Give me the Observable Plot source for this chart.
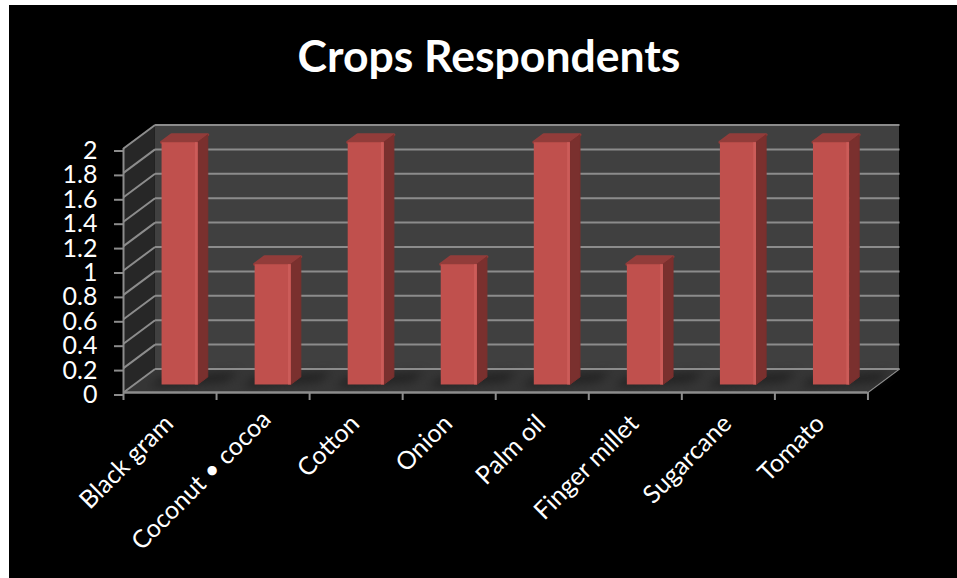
<!DOCTYPE html>
<html>
<head>
<meta charset="utf-8">
<script src="https://cdn.jsdelivr.net/npm/d3@7"></script>
<script src="https://cdn.jsdelivr.net/npm/@observablehq/plot@0.6"></script>
<style>
  html, body { margin: 0; background: #fff; }
  #panel { position: absolute; left: 9px; top: 5px; width: 948px; height: 573px; background: #000; overflow: hidden; }
  #title { height: 90px; box-sizing: border-box; padding-top: 25px; text-align: center; color: #fff;
           font: 700 44.5px/50px Lato, sans-serif; white-space: nowrap; }
  #title span { position: relative; left: 6px; }
  svg { display: block; }
</style>
</head>
<body>
<div id="panel">
  <div id="title"><span>Crops Respondents</span></div>
  <div id="chart"></div>
</div>
<script>
const crops = ["Black gram", "Coconut • cocoa", "Cotton", "Onion", "Palm oil", "Finger millet", "Sugarcane", "Tomato"];
const respondents = [2, 1, 2, 1, 2, 1, 2, 2];
const valueTicks = [0, 0.2, 0.4, 0.6, 0.8, 1, 1.2, 1.4, 1.6, 1.8, 2];

// Oblique projection: a depth of 1 shifts a point right and up in data units.
const shiftX = 0.339, shiftY = 0.1926;
const px = (x, z) => x + z * shiftX;
const py = (y, z) => y + z * shiftY;

const yMax = 2, xMax = crops.length;
const barHalf = 0.194, barNear = 0.32, barFar = 0.64;
// Column tops are softly bevelled, so their visible edges sit just under the full height.
const bevel = 0.014;

// A flat face is a two-row area: each row joins one edge point to its opposite.
const edge = (id, a, b) => ({id, x1: px(a[0], a[2]), y1: py(a[1], a[2]), x2: px(b[0], b[2]), y2: py(b[1], b[2])});
const face = (id, a, b, c, d) => [edge(id, a, b), edge(id, d, c)];
const areaOf = (rows, options) => Plot.area(rows, {x1: "x1", y1: "y1", x2: "x2", y2: "y2", z: "id", curve: "linear", ...options});

const backWall = face("back", [0, 0, 1], [0, yMax, 1], [xMax, yMax, 1], [xMax, 0, 1]);
const sideWall = face("side", [0, 0, 0], [0, yMax, 0], [0, yMax, 1], [0, 0, 1]);
const floor = face("floor", [0, 0, 0], [0, 0, 1], [xMax, 0, 1], [xMax, 0, 0]);

const bars = respondents.map((v, i) => ({v: v - bevel, l: i + 0.5 - barHalf, r: i + 0.5 + barHalf, id: crops[i]}));
const fronts = bars.flatMap(b => face(b.id, [b.l, 0, barNear], [b.l, b.v, barNear], [b.r, b.v, barNear], [b.r, 0, barNear]));
const sides = bars.flatMap(b => face(b.id, [b.r, 0, barNear], [b.r, b.v, barNear], [b.r, b.v, barFar], [b.r, 0, barFar]));
const tops = bars.flatMap(b => face(b.id, [b.l, b.v, barNear], [b.l, b.v, barFar], [b.r, b.v, barFar], [b.r, b.v, barNear]));
// Floor shadows fall behind and to the right of each column.
const shadows = bars.flatMap(b => face(b.id, [b.l - 0.1, 0, 0.2], [b.l - 0.1, 0, 0.6], [b.r + 0.26, 0, 0.85], [b.r + 0.26, 0, 0.45]));
// Lit strip down the right edge of each front face.
const glints = bars.flatMap(b => face(b.id, [b.r - 0.03, 0, barNear], [b.r - 0.03, b.v, barNear], [b.r, b.v, barNear], [b.r, 0, barNear]));

// The longest label slides a little along its own slant to stay clear of its neighbours.
const slide = d => (d.length > 14 ? 0.05 : 0);

const gridColor = "#8c8c8c";
const chart = Plot.plot({
  width: 948,
  height: 483,
  marginLeft: 114,
  marginRight: 58,
  marginTop: 29.5,
  marginBottom: 186,
  style: {background: "transparent", color: "#fff"},
  x: {domain: [0, xMax + shiftX]},
  y: {domain: [0, yMax + shiftY]},
  marks: [
    areaOf(backWall, {fill: "#404040"}),
    areaOf(sideWall, {fill: "#272727"}),
    areaOf(floor, {fill: "#363636"}),
    areaOf(shadows, {fill: "#202020", imageFilter: "blur(5px)"}),

    // Gridlines run along the back wall and fold forward across the side wall.
    Plot.link(valueTicks, {x1: px(0, 1), x2: px(xMax, 1), y1: d => py(d, 1), y2: d => py(d, 1), stroke: gridColor, strokeWidth: 2}),
    Plot.link(valueTicks, {x1: px(0, 0), x2: px(0, 1), y1: d => py(d, 0), y2: d => py(d, 1), stroke: gridColor, strokeWidth: 2}),
    Plot.link([0], {x1: px(xMax, 0), x2: px(xMax, 1), y1: py(0, 0), y2: py(0, 1), stroke: gridColor, strokeWidth: 1.2}),

    // Columns
    areaOf(tops, {fill: "#923c3a", stroke: "#923c3a", strokeWidth: 3, strokeLinejoin: "round", imageFilter: "blur(0.7px)"}),
    areaOf(sides, {fill: "#7a302e", stroke: "#7a302e", strokeWidth: 1, strokeLinejoin: "round", imageFilter: "blur(0.5px)"}),
    areaOf(fronts, {fill: "#c0504d", imageFilter: "blur(0.6px)"}),
    areaOf(glints, {fill: "#cc5c59", imageFilter: "blur(0.5px)"}),

    // Front edges of the chart box
    Plot.ruleX([0], {y1: 0, y2: yMax, stroke: gridColor, strokeWidth: 2}),
    Plot.ruleY([0], {x1: 0, x2: xMax, stroke: gridColor, strokeWidth: 2.4}),

    Plot.axisY({
      ticks: valueTicks,
      tickSize: 9,
      tickPadding: 17,
      stroke: gridColor,
      strokeWidth: 2,
      label: null,
      tickFormat: d => String(d),
      fontSize: 25,
      fontFamily: "Lato, sans-serif",
      fill: "#fff",
      textStroke: "none",
      dy: 2.5
    }),
    Plot.axisX({
      ticks: d3.range(0, xMax + 1),
      tickSize: 8,
      stroke: gridColor,
      strokeWidth: 2,
      label: null,
      tickFormat: () => ""
    }),
    Plot.text(crops, {
      x: (d, i) => i + 0.5 + slide(d),
      y: d => 0.7 * slide(d),
      text: d => d,
      rotate: -45,
      textAnchor: "end",
      lineAnchor: "middle",
      dx: -1,
      dy: 27,
      fontSize: 25,
      fontFamily: "Lato, sans-serif",
      fill: "#fff"
    })
  ]
});
document.getElementById("chart").append(chart);
</script>
</body>
</html>
